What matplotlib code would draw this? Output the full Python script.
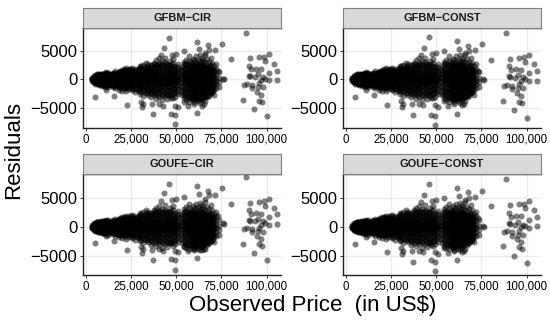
import matplotlib
matplotlib.use("Agg")
import matplotlib.pyplot as plt
import numpy as np

plt.rcParams["font.family"] = ["Liberation Sans", "DejaVu Sans"]

panel_names = ["GFBM\u2212CIR", "GFBM\u2212CONST", "GOUFE\u2212CIR", "GOUFE\u2212CONST"]
x_ticks = [0, 25000, 50000, 75000, 100000]
y_ticks = [-5000, 0, 5000]

# dense part of the cloud, read column by column (same in all panels)
core_price = [3500, 4200, 5000, 5800, 6500, 7300, 8000, 8800, 9600, 10400, 11200, 12000, 13000, 14000,
              15000, 16000, 17000, 18000, 19000, 20000, 21000, 22000, 23000, 24000, 25500, 27000,
              28500, 30000, 31500, 33000, 34500, 36000, 37500, 39000, 40500, 42000, 43500, 45000,
              46500, 48000, 49500, 51000, 52500, 54000, 55500, 57000, 58000, 59000, 60000, 61000,
              62000, 63000, 64000, 65000, 66000, 67000, 68000, 69000, 70000, 71000, 72000, 73500]
core_resid = [
    [-250, 60, 320, -90, 180],
    [-520, -310, -60, 140, 390, 610, -180, 250],
    [-740, -430, -210, 30, 280, 520, 760, -80, 130, 350],
    [-690, -480, -160, 90, 310, 670, 880, -300, 10, 200],
    [-820, -540, -250, -20, 240, 490, 790, 950, -130, 120],
    [-930, -610, -370, -70, 150, 430, 700, -220, 60, 330],
    [-760, -520, -240, 40, 260, 560, 860, 1010, -90, 170],
    [-1100, -680, -330, -40, 220, 480, 820, -190, 90, 360],
    [-950, -610, -290, 10, 310, 590, 980, -120, 150, 440],
    [-1280, -790, -450, -160, 120, 430, 760, 1090, -20, 270],
    [-1050, -720, -380, -60, 290, 620, 1010, 1220, 110, -210],
    [-1370, -880, -520, -190, 80, 380, 710, 1140, -30, 240],
    [-990, -610, -270, 30, 350, 690, 950, 130, -120],
    [-820, -470, -130, 160, 420, 760, -290, 40],
    [-1240, -760, -390, -80, 230, 510, 840, 1180, 60],
    [-1560, -920, -430, -110, 180, 560, 980, 1420, 40, -270],
    [-1150, -720, -340, 20, 370, 740, 1150, -120, 190],
    [-1780, -1060, -540, -190, 140, 480, 900, 1290, -20, 300],
    [-1420, -860, -410, -60, 290, 650, 1080, 1540, 100],
    [-1930, -1170, -620, -230, 130, 510, 930, 1380, 1690, -40, 300],
    [-1540, -980, -470, -90, 340, 720, 1150, 1790, 120, -260],
    [-2060, -1280, -710, -320, 70, 450, 860, 1320, 1960, -90, 230],
    [-1690, -1040, -560, -160, 250, 640, 1120, 1620, 60, 420],
    [-1260, -800, -390, 20, 410, 830, 1400, 1880, -130, 210],
    [-1880, -1180, -650, -240, 180, 570, 1010, 1530, 2080, -40, 370],
    [-2240, -1460, -870, -380, 60, 480, 920, 1390, 1910, -160, 270],
    [-1760, -1120, -590, -130, 290, 730, 1240, 1760, 80, 500],
    [-2480, -1690, -1050, -520, -70, 390, 860, 1390, 2040, 2420, 150, -290],
    [-2810, -1930, -1240, -640, -190, 270, 690, 1160, 1720, 2560, 20, 460],
    [-2330, -1560, -890, -330, 130, 600, 1090, 1610, 2230, 2920, -110, 360],
    [-2650, -1820, -1110, -520, -40, 420, 900, 1440, 2060, 2680, 190, -280],
    [-3040, -2190, -1480, -810, -260, 220, 710, 1270, 1880, 2440, -30, 470],
    [-2710, -1950, -1260, -640, -90, 410, 930, 1500, 2170, 2890, 160, -360],
    [-3320, -2480, -1690, -1010, -410, 90, 620, 1180, 1830, 2530, 3350, -170, 340],
    [-3010, -2230, -1520, -850, -240, 300, 830, 1420, 2090, 2760, 3720, 40, -530],
    [-3560, -2640, -1810, -1120, -500, 60, 590, 1150, 1760, 2450, 3140, -220, 320],
    [-2920, -2130, -1390, -710, -130, 410, 960, 1590, 2280, 3010, 3810, 140, -420],
    [-3390, -2560, -1750, -1040, -370, 220, 780, 1340, 1980, 2620, -90, 500],
    [-2810, -2020, -1280, -620, -60, 510, 1090, 1700, 2410, 3240, 230, -340],
    [-3280, -2490, -1680, -930, -300, 280, 820, 1420, 2130, 2860, 3560, -40, 560],
    [-3020, -2210, -1430, -740, -130, 450, 1010, 1640, 2350, 130, -420],
    [-2560, -1720, -970, -290, 320, 880, 1490, 2180, 2740, 60],
    [-2130, -1240, -420, 350, 1020, 1840],
    [-3310, -2450, -1610, -840, -160, 480, 1110, 1890, 2630, 3120],
    [-3620, -2780, -1960, -1230, -560, 80, 720, 1380, 2070, 2740, 3460, -240, 390],
    [-3880, -3010, -2170, -1410, -720, -70, 560, 1210, 1860, 2510, 3240, 4040, -380, 250],
    [-3240, -2390, -1580, -870, -230, 400, 1040, 1680, 2330, 2980, 90, -550],
    [-3610, -2760, -1940, -1180, -480, 190, 830, 1490, 2170, 2830, 3630, -150, 510],
    [-3930, -3040, -2230, -1460, -760, -90, 560, 1230, 1910, 2590, 3310, 230, -420],
    [-3360, -2540, -1720, -960, -270, 380, 1020, 1710, 2420, 3090, 4010, 70, -610],
    [-3750, -2890, -2060, -1310, -600, 60, 740, 1400, 2110, 2780, 3480, -280, 390],
    [-4060, -3180, -2330, -1520, -810, -130, 520, 1180, 1880, 2540, 3210, 4180, 210, -470],
    [-3490, -2620, -1810, -1040, -340, 330, 980, 1660, 2350, 3040, 3820, 30, -690],
    [-3170, -2360, -1590, -880, -200, 460, 1120, 1790, 2480, 3400, 140, -530],
    [-3720, -2790, -1950, -1180, -470, 210, 860, 1530, 2220, 2970, 4290, -130, 540],
    [-3040, -2210, -1440, -720, -60, 590, 1260, 1920, 2660, 3530, 260, -390],
    [-2810, -1990, -1230, -530, 120, 780, 1450, 2150, 3120, 450, -200],
    [-2420, -1640, -930, -270, 390, 1040, 1730, 2490, 3740, 60],
    [-2160, -1400, -720, -90, 530, 1210, 1890, 2860, 220],
    [-2630, -1780, -1040, -380, 260, 920, 1640, 2310],
    [-1560, -870, -250, 340, 1020, 1860, 2680],
    [-1350, -460, 210, 1280],
]

# inner blob, the black area of the cloud
inner_price = [4600, 5400, 6200, 6900, 7700, 8400, 9200, 10000, 10800, 11600, 12500, 13500, 14500, 15500, 16500,
               17500, 18500, 19500, 20500, 21500, 22500, 23500, 24700, 26200, 27700, 29200, 30700, 32200, 33700,
               35200, 36700, 38200, 39700, 41200, 42700, 44200, 45700, 47200, 48700, 50200, 53300, 54700, 56200,
               57500, 58500, 59500, 60500, 61500, 62500, 63500, 64500, 65500, 66500, 67500, 68500, 69500, 70500]
inner_resid = [
    [-410, -120, 90, 430],
    [-560, -280, 40, 360, 640],
    [-640, -340, -50, 210, 520, 810],
    [-760, -450, -120, 170, 440, 740],
    [-680, -310, 10, 320, 620, 900],
    [-840, -470, -150, 180, 530, 850],
    [-790, -420, -60, 260, 570, 930],
    [-910, -560, -240, 60, 390, 720, 1030],
    [-850, -500, -140, 200, 550, 880],
    [-930, -600, -280, 30, 360, 690, 1060],
    [-820, -480, -170, 120, 460, 800],
    [-700, -390, -60, 260, 590],
    [-880, -540, -220, 90, 410, 730, 990],
    [-1050, -620, -290, 50, 370, 720, 1090],
    [-960, -550, -180, 160, 510, 880],
    [-1210, -740, -320, 60, 420, 790, 1180],
    [-1130, -690, -260, 130, 520, 940, 1360],
    [-1340, -850, -400, 10, 410, 790, 1230],
    [-1260, -780, -310, 140, 560, 1010, 1520],
    [-1420, -910, -450, -30, 380, 820, 1290, 1700],
    [-1350, -840, -360, 90, 510, 960, 1470],
    [-1180, -690, -220, 240, 680, 1150, 1610],
    [-1510, -990, -480, -30, 410, 860, 1360, 1840],
    [-1730, -1160, -620, -120, 340, 790, 1270, 1720],
    [-1590, -1020, -470, 30, 520, 1000, 1530],
    [-1940, -1330, -760, -220, 300, 810, 1330, 1880],
    [-2170, -1510, -880, -310, 210, 740, 1280, 1860, 2320],
    [-1990, -1360, -740, -170, 370, 900, 1450, 2010],
    [-2310, -1620, -980, -380, 180, 710, 1260, 1830, 2370],
    [-2180, -1490, -830, -210, 350, 910, 1490, 2100],
    [-2520, -1810, -1120, -480, 110, 680, 1260, 1880, 2490],
    [-2290, -1590, -920, -290, 300, 890, 1480, 2110, 2690],
    [-2640, -1900, -1190, -530, 80, 670, 1270, 1920, 2540],
    [-2410, -1680, -980, -320, 290, 890, 1510, 2180, 2800],
    [-2710, -1970, -1260, -590, 30, 640, 1240, 1880, 2560],
    [-2480, -1740, -1030, -360, 250, 860, 1480, 2130, 2720],
    [-2750, -1990, -1270, -600, 20, 630, 1250, 1910, 2580],
    [-2530, -1790, -1060, -390, 230, 840, 1470, 2120, 2690],
    [-2390, -1640, -910, -240, 370, 980, 1610, 2260],
    [-2120, -1380, -660, -20, 590, 1230, 1910],
    [-2680, -1850, -1090, -390, 260, 900, 1560, 2240],
    [-2950, -2160, -1400, -690, -30, 620, 1270, 1960, 2620],
    [-3180, -2370, -1590, -860, -180, 470, 1120, 1790, 2460],
    [-3060, -2260, -1480, -760, -90, 570, 1220, 1890, 2560],
    [-3320, -2480, -1690, -950, -270, 380, 1030, 1700, 2380],
    [-3100, -2300, -1530, -800, -130, 520, 1180, 1840, 2510],
    [-3390, -2570, -1780, -1040, -350, 310, 970, 1640, 2320],
    [-3160, -2340, -1560, -830, -160, 500, 1150, 1810, 2480],
    [-3440, -2620, -1830, -1080, -390, 270, 930, 1600, 2260],
    [-3210, -2390, -1610, -880, -200, 460, 1110, 1770, 2430],
    [-2970, -2180, -1430, -720, -60, 590, 1240, 1900, 2550],
    [-3090, -2260, -1490, -770, -110, 540, 1190, 1850, 2490],
    [-2830, -2040, -1300, -610, 40, 680, 1330, 1980],
    [-2680, -1900, -1180, -500, 140, 780, 1420, 2090],
    [-2350, -1610, -900, -260, 370, 1000, 1640, 2270],
    [-2190, -1470, -800, -160, 470, 1110, 1760],
    [-1720, -1010, -380, 240, 860, 1490],
]

# loose points, same order in each residual list
out_price = [46000, 88600, 61550, 75570, 43180, 62500, 67800, 71200, 68000, 54000, 49600, 47700, 41500, 65700, 80300,
             90900, 95600, 98500, 101100, 99200, 104200, 90500, 91300, 94100, 97000, 105900, 90100, 95100, 101100, 98900,
             106000, 101300, 90700, 93600, 97900, 87500, 89400, 92200, 92200, 95100, 96000, 97000, 94500, 97000, 97900,
             87100, 95600, 97300, 93000, 100000, 76100, 76400, 73100, 49000, 49200, 46800, 36900, 61700, 22500, 4900,
             15700, 11000, 30300, 31000, 31600, 36400, 42800, 40500, 50800, 49000, 47200, 56250, 64200, 65300, 60000, 54400]
resid_gfbm_cir = [7225, 8150, 6590, 6185, 5430, 5320, 5950, 5090, 5090, 4910, 4500, 4335, 4335, 4620, 3525,
                  3700, 3870, 3930, 4450, 3180, 2775, 2430, 1790, 1900, 1790, 1560, 690, 925, 1210, 170,
                  -115, -170, 580, 460, 460, -925, -810, -980, -1560, -1390, -690, -115, -2140, -2720, -1390,
                  -3525, -3700, -3990, -5145, -6300, 170, 40, 1500, -7750, -6185, -6010, -6070, -5900, -4450, -3060,
                  -2830, -1850, -3870, -4855, -4280, -4335, -4570, -4280, -4855, -4570, -3300, -4620, -4570, -4335, -4280, -3870]
resid_gfbm_const = [7320, 8080, 6630, 6160, 5470, 5350, 5900, 5060, 4980, 4880, 4540, 4400, 4290, 4550, 3460,
                    3620, 3800, 3850, 4320, 3120, 2620, 2310, 1700, 1800, 1690, 1420, 560, 790, 1090, 60,
                    -250, -310, 440, 320, 350, -1060, -950, -1130, -1700, -1530, -830, -260, -2280, -2860, -1520,
                    -3660, -3840, -4130, -5290, -6630, 60, -60, 1420, -7960, -6320, -6150, -6160, -6040, -4480, -3020,
                    -2780, -1800, -3820, -4800, -4240, -4290, -4530, -4230, -4810, -4520, -3260, -4580, -4500, -4260, -4220, -3810]
resid_goufe_cir = [7500, 8660, 7030, 6690, 5810, 5650, 6290, 5540, 5470, 5270, 4790, 4720, 4560, 4870, 4060,
                   4180, 4340, 4470, 4930, 3680, 3370, 2990, 2330, 2420, 2330, 2200, 1150, 1420, 1790, 670,
                   580, 400, 1040, 970, 1000, -290, -230, -350, -930, -760, -120, 400, -1570, -2140, -810,
                   -2900, -3020, -3310, -4480, -5640, 690, 580, 1960, -7380, -5640, -5490, -5760, -5340, -4010, -2850,
                   -2440, -1570, -3480, -4420, -3830, -3890, -4130, -3830, -4360, -4070, -2840, -4170, -4010, -3770, -3830, -3480]
resid_goufe_const = [7400, 8320, 6700, 6300, 5530, 5410, 5980, 5130, 5040, 4950, 4590, 4460, 4340, 4610, 3580,
                     3750, 3930, 3990, 4570, 3240, 2950, 2470, 1790, 1910, 1830, 1790, 630, 870, 1270, 170,
                     115, -200, 520, 410, 430, -860, -750, -930, -1500, -1330, -640, -60, -2080, -2660, -1330,
                     -3350, -3530, -3870, -4970, -6185, 170, 60, 1560, -7630, -6010, -5780, -6010, -5720, -4335, -3000,
                     -2660, -1680, -3700, -4690, -4110, -4170, -4400, -4110, -4690, -4400, -3120, -4460, -4400, -4170, -4110, -3700]
panel_resid = [resid_gfbm_cir, resid_gfbm_const, resid_goufe_cir, resid_goufe_const]

W, H = 550, 322
fig = plt.figure(figsize=(W / 100, H / 100), dpi=100)

core_x = np.repeat(core_price, [len(c) for c in core_resid])
core_y = np.concatenate(core_resid)
inner_x = np.repeat(inner_price, [len(c) for c in inner_resid])
inner_y = np.concatenate(inner_resid)

# panel boxes in pixels: left, top, right, bottom
boxes = [(83, 28, 281, 128), (343, 28, 541, 128), (83, 174, 281, 275), (343, 174, 541, 275)]
ylims = [(-8450, 8970), (-8450, 8970), (-8300, 9170), (-8300, 9170)]

for i, name in enumerate(panel_names):
    l, t, r, b = boxes[i]
    ax = fig.add_axes([l / W, 1 - b / H, (r - l) / W, (b - t) / H])
    for xs, ys in [(core_x, core_y), (inner_x, inner_y), (out_price, panel_resid[i])]:
        ax.scatter(xs, ys, s=19, color="black", alpha=0.5, linewidths=0, zorder=3)

    ax.set_xlim(-1700, 108000)
    ax.set_ylim(*ylims[i])
    ax.set_xticks(x_ticks)
    ax.set_xticklabels([f"{v:,}" for v in x_ticks], fontsize=8.3)
    ax.set_yticks(y_ticks)
    ax.set_yticklabels([str(v).replace("-", "\u2212") for v in y_ticks], fontsize=12)
    ax.tick_params(axis="both", length=2.5, width=0.7, color="#333333", pad=1.5, labelcolor="black")
    ax.grid(True, color="#ebebeb", linewidth=1)
    ax.set_axisbelow(True)
    ax.spines["right"].set_visible(False)
    for s in ["top", "left", "bottom"]:
        ax.spines[s].set_color("#222222")
        ax.spines[s].set_linewidth(1.0)

    strip = fig.add_axes([l / W, 1 - t / H, (r - l) / W, 20.5 / H])
    strip.set_facecolor("#d9d9d9")
    strip.set_xticks([])
    strip.set_yticks([])
    for s in strip.spines.values():
        s.set_color("#808080")
        s.set_linewidth(0.8)
    strip.text(0.5, 0.47, name, transform=strip.transAxes, ha="center", va="center",
               fontsize=7.9, fontweight="bold", color="#1a1a1a")

fig.text(313 / W, 1 - 305.5 / H, "Observed Price  (in US$)", ha="center", va="center", fontsize=16)
fig.text(14 / W, 1 - 150 / H, "Residuals", ha="center", va="center", rotation=90, fontsize=16)

fig.savefig("out.png", dpi=100)
